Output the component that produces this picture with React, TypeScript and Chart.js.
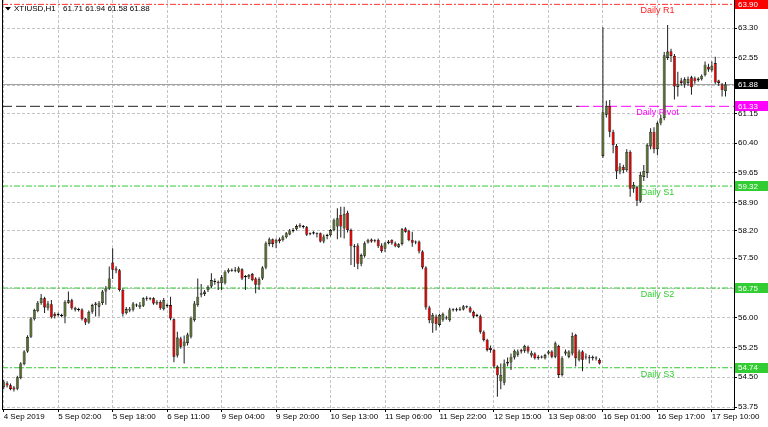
import { useEffect, useRef } from 'react';
import { Chart, registerables } from 'chart.js';
Chart.register(...registerables);

// H1 bars, 4 Sep 09:00 .. 17 Sep 14:00 (213 bars, 16 per row)
const opens = [
  54.25,54.35,54.30,54.24,54.21,54.48,54.83,55.15,55.52,55.96,56.17,56.37,56.49,56.24,56.34,56.10,
  56.07,56.07,56.03,56.38,56.44,56.20,56.22,56.21,55.98,55.88,56.15,56.32,56.28,56.37,56.66,56.74,
  57.39,57.24,57.20,56.70,56.12,56.18,56.20,56.33,56.27,56.30,56.48,56.49,56.49,56.36,56.40,56.22,
  56.30,56.32,55.96,55.05,55.48,55.28,55.36,55.52,55.94,56.32,56.58,56.60,56.70,56.79,56.93,56.91,
  56.87,56.87,57.16,57.21,57.19,57.16,57.22,57.05,57.02,57.10,56.99,56.83,56.99,57.27,57.86,57.98,
  57.89,57.98,57.96,58.03,58.10,58.18,58.23,58.34,58.28,58.28,58.12,58.13,58.13,58.13,57.92,58.06,
  58.08,58.21,58.30,58.59,58.25,58.65,58.21,57.78,57.82,57.36,57.56,57.90,57.97,57.93,57.96,57.82,
  57.74,57.88,57.96,57.88,57.78,57.86,58.25,58.19,57.96,57.92,57.92,57.67,57.27,56.26,55.86,56.03,
  55.82,55.95,55.99,55.94,56.19,56.21,56.20,56.21,56.28,56.26,56.15,56.05,56.04,55.65,55.44,55.24,
  55.19,54.77,54.40,54.36,54.85,54.87,55.00,55.07,55.19,55.17,55.27,55.05,55.10,55.02,55.00,54.98,
  55.10,55.15,55.02,55.29,54.56,55.10,55.02,55.10,55.57,54.94,55.15,55.00,55.00,54.98,55.00,54.94,
  60.08,61.12,61.34,60.69,60.33,59.69,59.80,59.72,60.18,59.25,59.30,58.93,59.55,59.65,60.32,60.69,
  60.25,60.90,61.03,62.55,62.72,62.60,61.82,61.98,61.88,61.92,62.06,62.04,61.99,62.01,62.12,62.33,
  62.24,62.42,61.98,61.88,61.71,
];
const highs = [
  54.44,54.40,54.34,54.28,54.54,54.88,55.18,55.56,56.02,56.23,56.42,56.60,56.53,56.42,56.45,56.14,
  56.13,56.10,56.44,56.66,56.48,56.28,56.25,56.24,56.00,56.18,56.35,56.40,56.42,56.70,56.80,57.29,
  57.75,57.30,57.23,56.74,56.27,56.27,56.40,56.36,56.40,56.52,56.54,56.52,56.52,56.44,56.44,56.50,
  56.36,56.53,55.98,55.65,55.52,55.55,55.62,56.03,56.42,56.99,56.85,56.70,56.82,57.12,56.99,56.94,
  57.08,57.20,57.25,57.24,57.28,57.29,57.25,57.08,57.10,57.13,57.02,57.02,57.30,57.92,58.02,58.00,
  58.00,58.02,58.08,58.16,58.24,58.26,58.35,58.38,58.34,58.31,58.15,58.18,58.15,58.15,58.10,58.12,
  58.24,58.50,58.76,58.80,58.80,58.70,58.25,57.86,57.88,57.62,57.92,57.99,58.00,57.98,58.00,57.88,
  57.91,57.96,57.98,57.92,57.88,58.26,58.28,58.22,58.17,57.95,57.95,57.70,57.30,56.30,56.12,56.08,
  56.10,56.13,56.05,56.25,56.24,56.25,56.27,56.32,56.31,56.29,56.18,56.10,56.08,55.68,55.47,55.30,
  55.22,54.80,54.85,54.95,55.00,55.10,55.20,55.20,55.22,55.32,55.30,55.17,55.13,55.06,55.05,55.09,
  55.18,55.18,55.40,55.32,55.03,55.20,55.18,55.63,55.60,55.20,55.18,55.10,55.06,55.05,55.03,54.98,
  63.32,61.47,61.49,60.74,60.38,59.90,59.86,60.25,60.22,59.42,59.33,59.68,59.85,60.40,60.78,60.80,
  60.95,61.12,62.70,63.38,62.78,62.65,62.20,62.05,62.06,62.08,62.10,62.08,62.06,62.13,62.46,62.40,
  62.46,62.58,62.00,61.92,61.94,
];
const lows = [
  54.20,54.24,54.17,54.14,54.17,54.45,54.80,55.12,55.49,55.93,56.14,56.33,56.12,56.18,55.98,55.98,
  56.03,56.01,55.86,56.35,56.20,56.16,56.16,55.93,55.82,55.85,56.10,56.03,56.03,56.32,56.33,56.70,
  56.98,57.12,56.66,56.03,56.08,56.14,56.16,56.27,56.22,56.27,56.43,56.44,56.33,56.32,56.20,56.18,
  56.25,55.94,54.88,55.00,55.22,54.85,55.30,55.48,55.90,56.28,56.52,56.55,56.65,56.75,56.83,56.70,
  56.70,56.84,57.12,57.16,57.15,57.13,56.95,56.70,56.98,56.92,56.62,56.70,56.95,57.22,57.80,57.78,
  57.75,57.88,57.92,58.00,58.08,58.15,58.20,58.27,58.25,58.06,58.08,58.10,58.02,57.90,57.88,57.98,
  58.05,58.18,57.98,58.02,58.00,58.15,57.33,57.28,57.22,57.30,57.52,57.87,57.89,57.90,57.76,57.64,
  57.66,57.85,57.84,57.78,57.76,57.82,58.14,57.93,57.79,57.85,57.62,57.22,56.20,55.86,55.62,55.68,
  55.78,55.90,55.95,55.90,56.16,56.16,56.17,56.18,56.24,56.12,55.99,56.02,55.60,55.40,55.15,55.12,
  54.72,54.01,54.20,54.30,54.78,54.68,54.95,55.02,55.10,55.12,55.10,55.00,54.95,54.94,54.97,54.95,
  55.07,54.98,54.98,54.48,54.52,55.05,54.98,55.05,54.77,54.90,54.65,54.95,54.85,54.92,54.92,54.82,
  60.03,61.05,60.55,60.15,59.50,59.62,59.64,59.68,59.05,59.15,58.82,58.90,59.45,59.52,60.25,60.15,
  60.10,60.85,60.98,62.50,62.45,61.50,61.58,61.85,61.80,61.85,61.62,61.90,61.95,61.98,62.08,62.20,
  62.20,61.90,61.85,61.58,61.58,
];
const closes = [
  54.39,54.29,54.20,54.19,54.50,54.85,55.15,55.52,55.98,56.20,56.38,56.49,56.26,56.36,56.01,56.04,
  56.09,56.05,56.40,56.44,56.24,56.25,56.20,55.96,55.88,56.15,56.32,56.36,56.38,56.66,56.74,56.99,
  57.21,57.19,56.70,56.10,56.22,56.23,56.36,56.31,56.33,56.49,56.50,56.47,56.36,56.40,56.24,56.45,
  56.32,55.98,55.02,55.50,55.27,55.40,55.58,55.99,56.36,56.53,56.62,56.66,56.78,56.95,56.90,56.87,
  57.02,57.16,57.21,57.19,57.21,57.25,56.99,57.02,57.08,56.95,56.83,56.97,57.27,57.88,57.98,57.86,
  57.96,57.93,58.05,58.13,58.20,58.21,58.31,58.30,58.31,58.09,58.11,58.15,58.11,57.92,58.05,58.09,
  58.21,58.47,58.51,58.30,58.62,58.21,57.80,57.80,57.36,57.58,57.88,57.96,57.92,57.95,57.80,57.68,
  57.88,57.92,57.88,57.80,57.85,58.23,58.17,57.96,57.89,57.90,57.67,57.27,56.26,55.94,56.07,55.84,
  56.07,56.10,56.00,56.21,56.21,56.19,56.23,56.29,56.27,56.15,56.03,56.07,55.65,55.44,55.19,55.19,
  54.77,54.55,54.56,54.85,54.89,55.02,55.17,55.15,55.15,55.29,55.15,55.12,54.98,54.98,55.02,55.06,
  55.15,55.02,55.36,54.56,54.98,55.15,55.15,55.54,54.98,55.15,54.94,55.02,54.98,55.02,54.97,54.85,
  61.18,61.34,60.69,60.35,59.69,59.81,59.72,60.18,59.25,59.35,58.95,59.60,59.70,60.36,60.69,60.25,
  60.90,61.03,62.62,62.71,62.60,61.83,61.90,61.92,62.01,62.02,61.81,61.96,62.03,62.10,62.38,62.26,
  62.35,61.93,61.92,61.74,61.88,
];

const timeTickBars = [0, 16, 32, 48, 64, 80, 96, 112, 128, 144, 160, 176, 192, 208];
const timeTickLabels = [
  '4 Sep 2019', '5 Sep 02:00', '5 Sep 18:00', '6 Sep 11:00', '9 Sep 04:00', '9 Sep 20:00',
  '10 Sep 13:00', '11 Sep 06:00', '11 Sep 22:00', '12 Sep 15:00', '13 Sep 08:00',
  '16 Sep 01:00', '16 Sep 17:00', '17 Sep 10:00',
];
const priceTicks = [63.30, 62.55, 61.85, 61.15, 60.40, 59.65, 58.90, 58.20, 57.50, 56.75, 56.00, 55.25, 54.50, 53.75];
const hiddenPriceTicks = [61.85, 56.75];

const levelNames = ['Daily R1', 'Daily Pivot', 'Daily S1', 'Daily S2', 'Daily S3'];
const levelValues = [63.90, 61.33, 59.32, 56.75, 54.74];
const levelColors = ['#ff2020', '#ff00ff', '#32cd32', '#32cd32', '#32cd32'];
const bidPrice = 61.88;
const symbolTitle = 'XTIUSD,H1';
const titleOHLC = '61.71 61.94 61.58 61.88';

const pivotSplitBar = 169;
const levelLabelBar = 192;
const slotCount = 215;

const FONT = '"Liberation Sans", Arial, sans-serif';
const BULL = '#556b2f';
const BEAR = '#e00000';

const dashDot = [6, 2, 2, 2];

function lineDs(x0: number, x1: number, v: number, color: string, dash: number[]) {
  return {
    type: 'line' as const,
    data: [{ x: x0, y: v }, { x: x1, y: v }],
    borderColor: color,
    borderWidth: 1,
    borderDash: dash,
    pointRadius: 0,
    fill: false,
    order: 5,
  };
}

export default function App() {
  const ref = useRef<HTMLCanvasElement>(null);
  useEffect(() => {
    document.body.style.margin = '0';
    const wickData = opens.map((o, i) => ({
      x: i,
      y: [Math.min(lows[i], o, closes[i]), Math.max(highs[i], o, closes[i])],
    }));
    const bodyData = opens.map((o, i) => {
      const c = closes[i];
      let lo = Math.min(o, c);
      let hi = Math.max(o, c);
      if (hi - lo < 0.026) {
        const m = (hi + lo) / 2;
        lo = m - 0.013;
        hi = m + 0.013;
      }
      return { x: i, y: [lo, hi] };
    });
    const bodyColors = opens.map((o, i) => (closes[i] >= o ? BULL : BEAR));
    const xMin = -0.5;
    const xMax = slotCount - 0.5;

    const overlay = {
      id: 'overlay',
      afterDraw(chart: any) {
        const ctx = chart.ctx as CanvasRenderingContext2D;
        const { left, right, top, bottom } = chart.chartArea;
        const ys = chart.scales.y;
        const xs = chart.scales.x;
        ctx.save();
        ctx.strokeStyle = '#000';
        ctx.lineWidth = 1;
        ctx.beginPath();
        ctx.moveTo(Math.round(left) + 0.5, top);
        ctx.lineTo(Math.round(left) + 0.5, bottom);
        ctx.stroke();

        ctx.font = `9px ${FONT}`;
        ctx.textAlign = 'center';
        ctx.textBaseline = 'middle';
        const lx = xs.getPixelForValue(levelLabelBar);
        levelNames.forEach((name, k) => {
          const y = ys.getPixelForValue(levelValues[k]);
          ctx.fillStyle = levelColors[k];
          ctx.fillText(name, lx, y + 6.5);
        });

        const boxes: [number, string][] = [
          [levelValues[0], '#ff0000'],
          [bidPrice, '#000000'],
          [levelValues[1], '#ff00ff'],
          [levelValues[2], '#32cd32'],
          [levelValues[3], '#32cd32'],
          [levelValues[4], '#32cd32'],
        ];
        ctx.font = `8px ${FONT}`;
        ctx.textAlign = 'left';
        boxes.forEach(([v, col]) => {
          const y = ys.getPixelForValue(v);
          ctx.fillStyle = col;
          ctx.fillRect(right + 1, Math.round(y - 5), 768 - right, 10);
          ctx.fillStyle = '#ffffff';
          ctx.fillText(v.toFixed(2), right + 4, y + 0.5);
        });

        ctx.fillStyle = '#000';
        ctx.beginPath();
        ctx.moveTo(5, 7);
        ctx.lineTo(11, 7);
        ctx.lineTo(8, 10.5);
        ctx.closePath();
        ctx.fill();
        ctx.font = `8px ${FONT}`;
        ctx.textAlign = 'left';
        ctx.textBaseline = 'middle';
        ctx.fillText(symbolTitle, 14, 9);
        ctx.fillText(titleOHLC, 63, 9);
        ctx.restore();
      },
    };

    const chart = new Chart(ref.current!, {
      type: 'bar',
      data: {
        datasets: [
          lineDs(xMin, xMax, levelValues[0], '#ff3030', dashDot),
          lineDs(xMin, pivotSplitBar, levelValues[1], '#202020', [10, 4]),
          lineDs(pivotSplitBar, xMax, levelValues[1], '#ff00ff', [10, 4]),
          lineDs(xMin, xMax, levelValues[2], '#32cd32', dashDot),
          lineDs(xMin, xMax, levelValues[3], '#32cd32', dashDot),
          lineDs(xMin, xMax, levelValues[4], '#32cd32', dashDot),
          lineDs(xMin, xMax, bidPrice, '#a0a0a0', []),
          {
            type: 'bar' as const,
            data: wickData as any,
            backgroundColor: '#1e1e1e',
            borderWidth: 0,
            barThickness: 1,
            grouped: false,
            inflateAmount: 0,
            order: 2,
          },
          {
            type: 'bar' as const,
            data: bodyData as any,
            backgroundColor: bodyColors,
            borderColor: '#000',
            borderWidth: 0.6,
            borderSkipped: false,
            barThickness: 3,
            grouped: false,
            inflateAmount: 0,
            order: 1,
          },
        ] as any,
      },
      options: {
        responsive: false,
        animation: false,
        devicePixelRatio: 1,
        layout: { padding: { left: 2, top: 0, right: 0, bottom: 0 } },
        plugins: { legend: { display: false }, tooltip: { enabled: false } },
        scales: {
          x: {
            type: 'linear',
            offset: false,
            min: xMin,
            max: xMax,
            afterBuildTicks: (s: any) => {
              s.ticks = timeTickBars.map((v) => ({ value: v }));
            },
            afterFit: (s: any) => {
              s.height = 18;
              s.paddingLeft = 0;
              s.paddingRight = 0;
            },
            ticks: {
              autoSkip: false,
              maxRotation: 0,
              align: 'start',
              padding: 0,
              color: '#000',
              font: { size: 8, family: FONT },
              callback: (v: any) => {
                const k = timeTickBars.indexOf(Number(v));
                return k >= 0 ? timeTickLabels[k] : '';
              },
            },
            grid: { offset: false, color: '#c4c4c4', tickColor: '#000', tickLength: 3, tickWidth: 1 },
            border: { display: true, color: '#000', width: 1, dash: [3, 2] },
          },
          y: {
            type: 'linear',
            position: 'right',
            min: 53.70,
            max: 64.01,
            afterBuildTicks: (s: any) => {
              s.ticks = priceTicks.map((v) => ({ value: v }));
            },
            afterFit: (s: any) => {
              s.width = 34;
              s.paddingTop = 0;
              s.paddingBottom = 0;
            },
            ticks: {
              autoSkip: false,
              padding: 1,
              color: '#000',
              font: { size: 8, family: FONT },
              callback: (v: any) => (hiddenPriceTicks.includes(Number(v)) ? '' : Number(v).toFixed(2)),
            },
            grid: { color: '#c4c4c4', tickColor: '#000', tickLength: 3, tickWidth: 1 },
            border: { display: true, color: '#000', width: 1, dash: [3, 2] },
          },
        },
      } as any,
      plugins: [overlay],
    });
    return () => chart.destroy();
  }, []);
  return (
    <div style={{ width: 768, height: 427, background: '#fff' }}>
      <canvas ref={ref} width={768} height={427} style={{ display: 'block' }} />
    </div>
  );
}
